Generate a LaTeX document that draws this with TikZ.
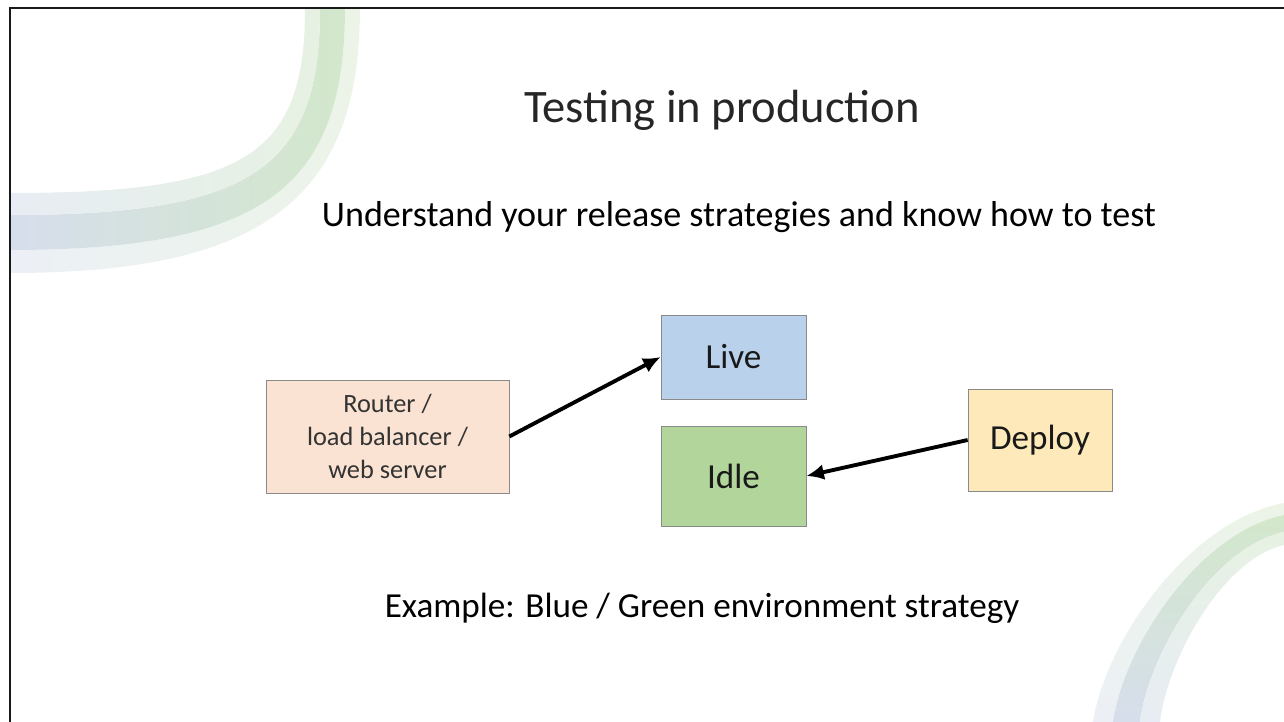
\documentclass[tikz,border=0pt]{standalone}
\usepackage{fontspec}
\setmainfont{Carlito}
\usetikzlibrary{arrows.meta,positioning}
\definecolor{routerfill}{HTML}{FAE3D3}
\definecolor{livefill}{HTML}{B9D1EB}
\definecolor{idlefill}{HTML}{B2D59B}
\definecolor{deployfill}{HTML}{FEE9BA}
\definecolor{boxline}{HTML}{8A8A8A}
\definecolor{ringblue}{HTML}{D6DEEC}
\definecolor{ringgreen}{HTML}{D3E7CB}
\definecolor{ringpaleblue}{HTML}{ECF0F6}
\definecolor{ringpalegreen}{HTML}{ECF4E8}
\tikzset
{
    hostbox/.style = {rectangle, draw=boxline, fill=routerfill, align=center, minimum width=4.86cm, minimum height=2.26cm, text=black!80, font=\fontsize{15}{18.7}\selectfont},
    envbox/.style  = {rectangle, draw=boxline, align=center, minimum width=2.9cm, text=black!90, font=\fontsize{20}{24}\selectfont},
    flow/.style    = {->, >={Latex[length=10pt,width=9pt]}, line width=2.2pt}
}
\begin{document}
\begin{tikzpicture}[x=0.02cm, y=-0.02cm]
\useasboundingbox (0,0) rectangle (1284,722);
% corner rings
\begin{scope}
\clip (10,8) rectangle (1284,722);
\shade [left color=ringpaleblue, right color=ringpalegreen] (360,8) .. controls (360,199) and (262,273) .. (10,273) -- (10,250) .. controls (261,250) and (345,190) .. (345,8) -- cycle;
\shade [left color=ringblue, right color=ringgreen] (345,8) .. controls (345,190) and (261,250) .. (10,250) -- (10,215) .. controls (252,215) and (320,169) .. (320,8) -- cycle;
\shade [left color=ringpaleblue!80!ringblue, right color=ringpalegreen!80!ringgreen] (320,8) .. controls (320,169) and (252,215) .. (10,215) -- (10,193) .. controls (246,193) and (305,156) .. (305,8) -- cycle;
\shade [top color=ringpalegreen, bottom color=ringpaleblue] (1093,722) .. controls (1105,641) and (1190,520) .. (1284,503) -- (1284,515) .. controls (1200,532) and (1124,645) .. (1113,722) -- cycle;
\shade [top color=ringgreen, bottom color=ringblue] (1113,722) .. controls (1124,645) and (1200,532) .. (1284,515) -- (1284,532) .. controls (1213,547) and (1149,652) .. (1140,722) -- cycle;
\shade [top color=ringpalegreen!80!ringgreen, bottom color=ringpaleblue!80!ringblue] (1140,722) .. controls (1149,652) and (1213,547) .. (1284,532) -- (1284,545) .. controls (1223,559) and (1168,657) .. (1160,722) -- cycle;
\end{scope}
% slide frame
\draw [line width=1.6pt, black!90] (10,722) -- (10,8) -- (1284,8);
% texts
\node [anchor=base, text=black!85, font=\fontsize{26.5}{32}\selectfont] at (722,123) (title) {Testing in production};
\node [anchor=base, font=\fontsize{20.5}{24}\selectfont] at (739,227) (aim) {Understand your release strategies and know how to test};
\node [anchor=base, font=\fontsize{20}{24}\selectfont] at (702,617) (example) {Example: Blue / Green environment strategy};
% boxes
\node [hostbox] at (387.5,436.5) (router) {Router /\\load balancer /\\web server};
\node [envbox, fill=livefill, minimum height=1.68cm] at (733.5,357) (live) {Live};
\node [envbox, fill=idlefill, minimum height=2cm] at (733.5,476) (idle) {Idle};
\node [envbox, fill=deployfill, minimum width=2.88cm, minimum height=2.04cm] at (1040,440) (deploy) {Deploy};
\draw [flow] (router.east) -- (live.west);
\draw [flow] (deploy.west) -- (idle.east);
\end{tikzpicture}
\end{document}
